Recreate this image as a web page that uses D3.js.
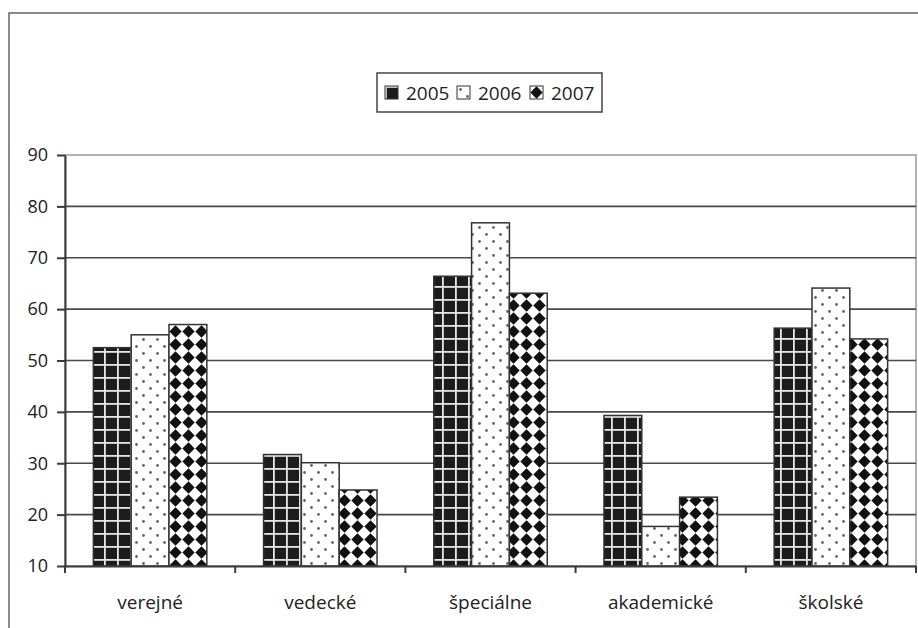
<!DOCTYPE html>
<html>
<head>
<meta charset="utf-8">
<script src="https://cdn.jsdelivr.net/npm/d3@7"></script>
<style>
  body { margin: 0; background: #fff; }
  text { font-family: "Open Sans", "DejaVu Sans", sans-serif; fill: #222; }
</style>
</head>
<body>
<div id="chart"></div>
<script>
const categories = ['verejné', 'vedecké', 'špeciálne', 'akademické', 'školské']
const years = ['2005', '2006', '2007']
const values2005 = [52.5, 31.7, 66.4, 39.3, 56.3]
const values2006 = [55.0, 30.1, 76.8, 17.7, 64.1]
const values2007 = [57.0, 24.8, 63.1, 23.4, 54.2]
const yTicks = [10, 20, 30, 40, 50, 60, 70, 80, 90]

const series = { '2005': values2005, '2006': values2006, '2007': values2007 }
const PATTERN = { '2005': 'url(#p-grid)', '2006': 'url(#p-dots)', '2007': 'url(#p-diam)' }

const W = 918, H = 628
const plot = { left: 65, right: 916, top: 155, bottom: 566 }

const svg = d3.select('#chart').append('svg').attr('width', W).attr('height', H)

// patterns
const defs = svg.append('defs')
const pg = defs.append('pattern').attr('id', 'p-grid').attr('patternUnits', 'userSpaceOnUse')
  .attr('width', 13).attr('height', 13)
pg.append('rect').attr('width', 13).attr('height', 13).attr('fill', '#1c1c1c')
pg.append('rect').attr('x', 0).attr('y', 0).attr('width', 1.8).attr('height', 13).attr('fill', '#e6e6e6')
pg.append('rect').attr('x', 0).attr('y', 0).attr('width', 13).attr('height', 1.8).attr('fill', '#e6e6e6')

const pd = defs.append('pattern').attr('id', 'p-dots').attr('patternUnits', 'userSpaceOnUse')
  .attr('width', 14).attr('height', 14)
pd.append('rect').attr('width', 14).attr('height', 14).attr('fill', '#fff')
pd.append('circle').attr('cx', 3.5).attr('cy', 3.5).attr('r', 1.4).attr('fill', '#666')
pd.append('circle').attr('cx', 10.5).attr('cy', 10.5).attr('r', 1.4).attr('fill', '#666')

const pm = defs.append('pattern').attr('id', 'p-diam').attr('patternUnits', 'userSpaceOnUse')
  .attr('width', 13).attr('height', 13)
pm.append('rect').attr('width', 13).attr('height', 13).attr('fill', '#fff')
pm.append('polygon').attr('points', '6.5,0.3 12.7,6.5 6.5,12.7 0.3,6.5').attr('fill', '#111')

// outer frame (runs off the picture right and bottom)
svg.append('rect').attr('x', 9).attr('y', 13).attr('width', 930).attr('height', 640)
  .attr('fill', 'none').attr('stroke', '#666').attr('stroke-width', 1.5)

const x = d3.scaleBand().domain(categories).range([plot.left, plot.right])
const xs = d3.scaleBand().domain(years).range([0, x.bandwidth()]).paddingOuter(0.75)
const y = d3.scaleLinear().domain([10, 90]).range([plot.bottom, plot.top])

// plot area border
svg.append('rect').attr('x', plot.left).attr('y', y(90)).attr('width', plot.right - plot.left)
  .attr('height', y(10) - y(90)).attr('fill', 'none').attr('stroke', '#9a9a9a').attr('stroke-width', 1.5)

// gridlines
svg.append('g').selectAll('line').data(yTicks.filter(t => t > 10 && t < 90)).join('line')
  .attr('x1', plot.left).attr('x2', plot.right)
  .attr('y1', d => y(d)).attr('y2', d => y(d))
  .attr('stroke', '#4a4a4a').attr('stroke-width', 1.6)

// bars
categories.forEach((cat, i) => {
  years.forEach(yr => {
    const v = series[yr][i]
    svg.append('rect')
      .attr('x', x(cat) + xs(yr))
      .attr('y', y(v))
      .attr('width', xs.bandwidth())
      .attr('height', y(10) - y(v))
      .attr('fill', PATTERN[yr])
      .attr('stroke', '#333').attr('stroke-width', 1.5)
  })
})

// y axis
const yAxis = svg.append('g').attr('transform', `translate(${plot.left},0)`)
  .call(d3.axisLeft(y).tickValues(yTicks).tickSize(8).tickSizeOuter(0).tickPadding(9))
yAxis.select('.domain').attr('stroke', '#3a3a3a').attr('stroke-width', 2)
yAxis.selectAll('.tick line').attr('stroke', '#3a3a3a').attr('stroke-width', 2)
yAxis.selectAll('.tick text').attr('font-size', 18).attr('fill', '#222')
  .style('font-family', '"Open Sans", sans-serif')

// x axis
const xAxis = svg.append('g').attr('transform', `translate(0,${y(10)})`)
  .call(d3.axisBottom(x).tickSize(0).tickPadding(30).tickSizeOuter(0))
xAxis.select('.domain').attr('stroke', '#3a3a3a').attr('stroke-width', 2)
xAxis.selectAll('.tick text').attr('font-size', 19).attr('fill', '#222')
  .style('font-family', '"Open Sans", sans-serif')
const bounds = categories.map(c => x(c)).concat([x.range()[1]])
xAxis.selectAll('line.bound').data(bounds).join('line').attr('class', 'bound')
  .attr('x1', d => d).attr('x2', d => d).attr('y1', 0).attr('y2', 7)
  .attr('stroke', '#3a3a3a').attr('stroke-width', 2)

// legend
const legend = svg.append('g').attr('transform', 'translate(377,73)')
legend.append('rect').attr('width', 225).attr('height', 39)
  .attr('fill', '#fff').attr('stroke', '#444').attr('stroke-width', 1.5)
const itemX = [8, 80, 153]
years.forEach((yr, i) => {
  const g = legend.append('g').attr('transform', `translate(${itemX[i]},13)`)
  g.append('rect').attr('width', 13).attr('height', 13).attr('fill', PATTERN[yr])
    .attr('stroke', '#333').attr('stroke-width', 1)
  g.append('text').attr('x', 21).attr('y', 14).attr('font-size', 19).text(yr)
})
</script>
</body>
</html>
